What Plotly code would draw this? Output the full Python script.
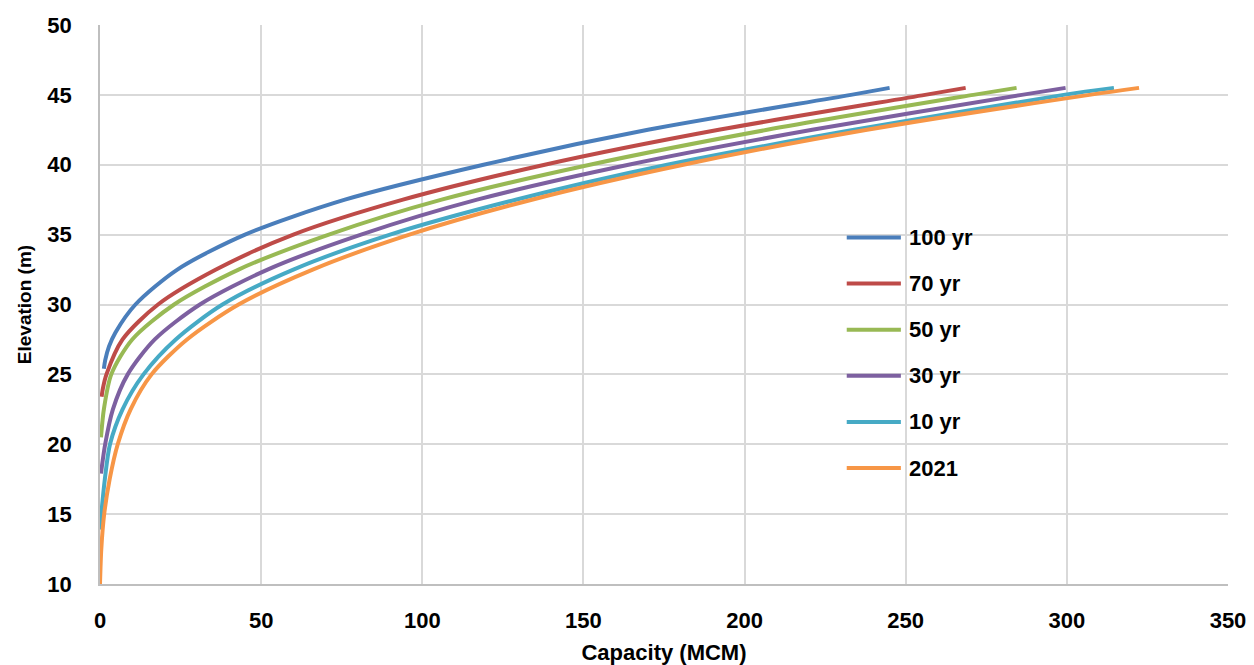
import plotly.graph_objects as go

series_names = ["100 yr", "70 yr", "50 yr", "30 yr", "10 yr", "2021"]
colors = ["#4A7EBB", "#BE4B48", "#98B954", "#7D60A0", "#46AAC5", "#F79646"]

elev_100 = [25.4, 26.0, 27.0, 28.0, 30.0, 32.5, 35.0, 37.5, 40.0, 42.5, 45.0, 45.5]
cap_100 = [1.2, 1.6, 2.8, 4.8, 11.0, 24.0, 45.0, 76.0, 119.0, 170.0, 233.0, 245.0]

elev_70 = [23.4, 24.0, 25.0, 27.5, 30.0, 32.5, 35.0, 37.5, 40.0, 42.5, 45.0, 45.5]
cap_70 = [0.5, 0.9, 2.0, 7.0, 18.0, 36.0, 60.0, 94.0, 138.0, 192.0, 256.0, 268.6]

elev_50 = [20.5, 21.5, 22.5, 25.0, 27.5, 30.0, 32.5, 35.0, 37.5, 40.0, 42.5, 45.0, 45.5]
cap_50 = [0.3, 0.7, 1.2, 3.5, 10.0, 23.0, 43.0, 71.0, 106.0, 152.0, 207.0, 271.0, 284.4]

elev_30 = [17.9, 20.0, 22.5, 25.0, 27.5, 30.0, 32.5, 35.0, 37.5, 40.0, 42.5, 45.0, 45.5]
cap_30 = [0.3, 1.6, 4.0, 8.6, 17.0, 31.0, 52.0, 81.0, 117.0, 164.0, 221.0, 286.0, 299.6]

elev_10 = [13.9, 15.0, 17.5, 20.0, 22.5, 25.0, 27.5, 30.0, 32.5, 35.0, 37.5, 40.0, 42.5, 45.0, 45.5]
cap_10 = [0.0, 0.4, 1.5, 3.1, 7.0, 13.5, 23.5, 38.0, 60.0, 90.0, 129.0, 176.0, 234.0, 299.0, 314.6]

elev_2021 = [10.0, 12.5, 15.0, 17.5, 20.0, 22.5, 25.0, 27.5, 30.0, 32.5, 35.0, 37.5, 40.0, 42.5, 45.0, 45.5]
cap_2021 = [0.0, 0.4, 1.3, 3.0, 5.5, 9.5, 16.0, 27.0, 43.0, 66.0, 96.0, 134.0, 181.0, 238.0, 307.0, 322.4]

all_caps = [cap_100, cap_70, cap_50, cap_30, cap_10, cap_2021]
all_elevs = [elev_100, elev_70, elev_50, elev_30, elev_10, elev_2021]

x_ticks = [0, 50, 100, 150, 200, 250, 300, 350]
y_ticks = [10, 15, 20, 25, 30, 35, 40, 45, 50]

FONT = "Liberation Sans, Arial, sans-serif"

fig = go.Figure()
for name, c, xs, ys in zip(series_names, colors, all_caps, all_elevs):
    fig.add_trace(go.Scatter(
        x=xs, y=ys, mode="lines", name=name, showlegend=False,
        line=dict(color=c, width=4, shape="spline", smoothing=0.8),
    ))

# Manual legend (paper coordinates) for Excel-like long line samples
shapes = [dict(type="rect", xref="paper", yref="paper", x0=0.650, x1=0.784, y0=0.168, y1=0.66,
               fillcolor="white", line=dict(width=0), layer="below")]
annotations = []
leg_top = 0.62
leg_step = 0.0825
for i, (name, c) in enumerate(zip(series_names, colors)):
    yy = leg_top - i * leg_step
    shapes.append(dict(type="line", xref="paper", yref="paper", x0=0.662, x1=0.710, y0=yy, y1=yy,
                       line=dict(color=c, width=4)))
    annotations.append(dict(xref="paper", yref="paper", x=0.715, y=yy, xanchor="left", yanchor="middle",
                            text=f"<b>{name}</b>", showarrow=False,
                            font=dict(family=FONT, size=22, color="black")))

fig.update_layout(
    width=1246, height=657,
    margin=dict(l=92, r=26, t=17, b=81, autoexpand=False),
    paper_bgcolor="white", plot_bgcolor="white",
    font=dict(family=FONT, size=22, color="black"),
    showlegend=False,
    shapes=shapes,
    annotations=annotations,
    xaxis=dict(
        range=[0, 350], tickvals=x_ticks, showgrid=True, gridcolor="#D9D9D9", gridwidth=1.5,
        zeroline=False, showline=True, linecolor="#BFBFBF", linewidth=1.5, automargin=False,
        tickfont=dict(family=FONT, size=22, weight="bold"),
        ticklabelstandoff=16,
        title=dict(text="<b>Capacity (MCM)</b>", font=dict(family=FONT, size=22), standoff=14),
    ),
    yaxis=dict(
        range=[10, 50], tickvals=y_ticks, showgrid=True, gridcolor="#D9D9D9", gridwidth=1.5,
        zeroline=False, showline=True, linecolor="#BFBFBF", linewidth=1.5, automargin=False,
        tickfont=dict(family=FONT, size=22, weight="bold"),
        ticklabelstandoff=22,
        title=dict(text="<b>Elevation (m)</b>", font=dict(family=FONT, size=19), standoff=11),
    ),
)

fig.write_html("out.html")
